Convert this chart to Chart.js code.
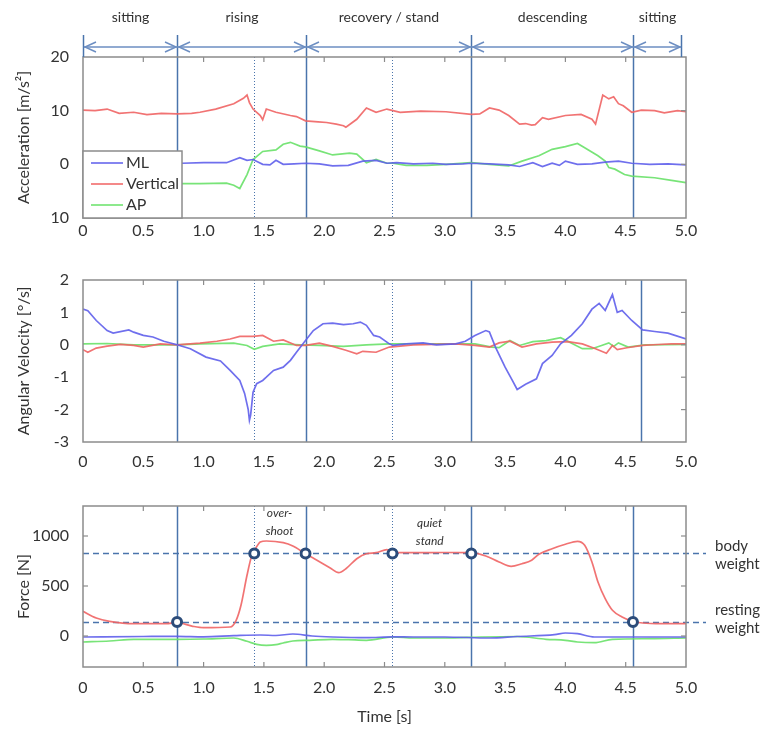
<!DOCTYPE html>
<html lang="en">
<head>
  <meta charset="UTF-8">
  <title>Sit-to-stand: acceleration, angular velocity and force</title>
  <script src="https://cdn.jsdelivr.net/npm/chart.js"></script>
  <style>
    * { margin: 0; padding: 0; box-sizing: border-box; }
    body { width: 768px; height: 737px; background: #fff; overflow: hidden; position: relative; }
    .panel { position: absolute; left: 0; width: 768px; }
    #accPanel { top: 0; height: 245px; }
    #gyroPanel { top: 265px; height: 210px; }
    #forcePanel { top: 495px; height: 242px; }
  </style>
</head>
<body>
  <div class="panel" id="accPanel"><canvas id="accChart"></canvas></div>
  <div class="panel" id="gyroPanel"><canvas id="gyroChart"></canvas></div>
  <div class="panel" id="forcePanel"><canvas id="forceChart"></canvas></div>

  <script>
    // ---- data: [time s, value] ----
    const timeTicks = [0, 0.5, 1.0, 1.5, 2.0, 2.5, 3.0, 3.5, 4.0, 4.5, 5.0];
    const timeTickText = ['0', '0.5', '1.0', '1.5', '2.0', '2.5', '3.0', '3.5', '4.0', '4.5', '5.0'];

    const phaseEdges = [0, 0.78, 1.845, 3.22, 4.56, 4.96];
    const phaseNames = ['sitting', 'rising', 'recovery / stand', 'descending', 'sitting'];
    const eventsSolid = [0.78, 1.845, 3.22, 4.56];
    const eventsSolidGyro = [0.78, 1.845, 3.22, 4.63];
    const eventsDotted = [1.42, 2.566];

    const seriesNames = ['ML', 'Vertical', 'AP'];

    const accTicks = [-10, 0, 10, 20];
    const accTickText = ['10', '0', '10', '20'];
    const accML = [[0,0.3],[0.2,0.2],[0.4,0.3],[0.6,0.2],[0.82,0.2],[1.0,0.3],[1.19,0.3],[1.3,1.25],[1.36,0.75],[1.41,0.9],
      [1.49,0],[1.55,-0.1],[1.6,0.75],[1.66,0],[1.75,0.1],[1.845,0.2],[1.96,0.1],[2.07,-0.3],[2.2,-0.2],[2.32,0.6],
      [2.43,0.75],[2.52,0.2],[2.6,0.3],[2.74,0.1],[2.9,0.2],[3.01,0],[3.15,0.1],[3.22,0.2],[3.37,0.1],[3.53,-0.1],
      [3.62,-0.4],[3.73,0.3],[3.81,-0.4],[3.89,0.2],[3.95,-0.2],[4.0,0.6],[4.1,0],[4.22,0.1],[4.33,0.4],[4.44,0.6],
      [4.55,0.2],[4.7,0],[4.85,0.1],[5.0,-0.1]];
    const accVert = [[0,10.1],[0.1,10.0],[0.2,10.3],[0.3,9.5],[0.42,9.7],[0.53,9.25],[0.65,9.5],[0.78,9.4],[0.9,9.5],[0.97,9.7],
      [1.1,10.3],[1.25,11.3],[1.33,12.3],[1.36,12.9],[1.38,11.5],[1.41,10.3],[1.47,9.1],[1.49,8.3],[1.52,10.3],[1.6,9.7],
      [1.72,9.1],[1.77,8.9],[1.845,8.1],[1.95,7.9],[2.02,7.8],[2.1,7.5],[2.16,7.2],[2.18,6.9],[2.27,8.4],[2.35,10.5],
      [2.43,9.7],[2.52,10.3],[2.63,9.7],[2.8,9.9],[3.01,9.8],[3.22,9.3],[3.29,9.4],[3.37,10.5],[3.45,10.1],[3.53,9.1],
      [3.62,7.5],[3.67,7.6],[3.72,7.3],[3.75,7.4],[3.81,8.7],[3.86,8.4],[4.0,9.1],[4.13,9.3],[4.22,8.4],[4.25,7.5],
      [4.31,12.9],[4.36,12.2],[4.4,12.6],[4.44,11.3],[4.48,10.9],[4.55,9.7],[4.63,10.1],[4.74,10.0],[4.82,9.6],[4.93,10.0],[5.0,9.8]];
    const accAP = [[0,-3.5],[0.3,-3.6],[0.6,-3.5],[0.82,-3.6],[0.97,-3.6],[1.19,-3.5],[1.25,-3.9],[1.3,-4.5],[1.36,-1.9],[1.41,0.9],
      [1.49,2.4],[1.6,2.7],[1.66,3.75],[1.72,4.1],[1.8,3.4],[1.845,3.25],[1.96,2.5],[2.07,1.75],[2.21,2.1],[2.27,1.9],
      [2.35,0.3],[2.43,0.9],[2.52,0.2],[2.57,0.2],[2.68,-0.2],[2.85,-0.2],[3.01,0],[3.22,0.3],[3.37,0],[3.53,-0.3],
      [3.64,0.6],[3.78,1.6],[3.89,2.8],[4.0,3.3],[4.1,3.9],[4.16,3.1],[4.27,1.6],[4.33,0.6],[4.36,-0.6],[4.41,-0.9],
      [4.49,-1.9],[4.55,-2.2],[4.74,-2.5],[4.88,-3.0],[5.0,-3.4]];

    const gyroTicks = [-3, -2, -1, 0, 1, 2];
    const gyroTickText = ['-3', '-2', '-1', '0', '1', '2'];
    const gyroML = [[0,1.1],[0.04,1.05],[0.11,0.75],[0.2,0.44],[0.25,0.36],[0.38,0.46],[0.42,0.39],[0.5,0.29],[0.58,0.24],[0.67,0.11],
      [0.78,0],[0.89,-0.12],[1.02,-0.38],[1.14,-0.5],[1.22,-0.79],[1.3,-1.1],[1.34,-1.5],[1.37,-2.0],[1.38,-2.33],[1.39,-2.17],
      [1.41,-1.46],[1.44,-1.2],[1.49,-1.1],[1.52,-1.0],[1.58,-0.79],[1.66,-0.69],[1.72,-0.48],[1.77,-0.23],[1.845,0.13],[1.91,0.44],
      [1.99,0.65],[2.07,0.67],[2.16,0.62],[2.24,0.65],[2.3,0.7],[2.35,0.6],[2.41,0.29],[2.46,0.24],[2.54,0.03],[2.57,-0.02],
      [2.68,0.03],[2.82,0.06],[2.93,0],[3.09,0.03],[3.17,0.11],[3.25,0.29],[3.34,0.44],[3.37,0.4],[3.42,-0.07],[3.5,-0.69],
      [3.56,-1.1],[3.6,-1.38],[3.67,-1.22],[3.76,-1.05],[3.81,-0.58],[3.89,-0.33],[3.96,0.03],[4.05,0.29],[4.14,0.65],[4.22,1.1],
      [4.28,1.28],[4.33,1.06],[4.39,1.55],[4.43,1.0],[4.47,1.06],[4.55,0.75],[4.64,0.46],[4.74,0.41],[4.85,0.36],[5.0,0.18]];
    const gyroVert = [[0,-0.15],[0.04,-0.23],[0.11,-0.1],[0.2,-0.04],[0.31,0.01],[0.42,-0.02],[0.5,-0.07],[0.64,0.03],[0.78,0],[0.97,0.05],
      [1.11,0.11],[1.22,0.18],[1.3,0.26],[1.41,0.26],[1.49,0.29],[1.58,0.11],[1.66,0.15],[1.77,-0.02],[1.845,-0.02],[1.96,0.05],
      [2.07,-0.05],[2.18,-0.17],[2.27,-0.28],[2.32,-0.2],[2.43,-0.23],[2.54,-0.07],[2.74,0],[3.09,0.03],[3.25,-0.02],[3.37,-0.07],
      [3.45,0.06],[3.54,0.11],[3.64,-0.07],[3.76,0.03],[3.89,0.08],[4.02,0.1],[4.14,0.03],[4.25,-0.12],[4.34,-0.26],[4.39,-0.02],
      [4.43,-0.15],[4.51,-0.09],[4.64,-0.02],[4.77,0.01],[4.88,0.03],[5.0,0.03]];
    const gyroAP = [[0,0.03],[0.2,0.04],[0.42,0],[0.78,0],[0.97,0.03],[1.25,0.05],[1.36,-0.02],[1.42,-0.14],[1.49,-0.05],[1.63,0.03],
      [1.8,0],[1.96,-0.02],[2.16,-0.05],[2.35,0],[2.54,0.03],[2.74,0.03],[3.09,0.03],[3.25,0.03],[3.39,-0.07],[3.45,-0.09],
      [3.54,0.13],[3.62,-0.02],[3.73,0.1],[3.84,0.13],[3.96,0.22],[4.06,0.03],[4.14,-0.12],[4.22,-0.12],[4.3,-0.02],[4.36,0.06],
      [4.4,-0.05],[4.44,0.06],[4.52,-0.07],[4.66,0],[5.0,0.01]];

    const forceTicks = [0, 500, 1000];
    const forceTickText = ['0', '500', '1000'];
    const forceML = [[0,-10],[0.5,-5],[0.78,-3],[1.0,-8],[1.25,3],[1.47,10],[1.6,5],[1.74,20],[1.9,0],[2.07,-10],
      [2.35,-17],[2.57,-8],[2.74,-10],[3.0,-10],[3.37,-20],[3.6,-5],[3.91,13],[4.0,30],[4.1,23],[4.24,-10],[4.39,-10],[5.0,-10]];
    const forceVert = [[0,247],[0.11,180],[0.22,147],[0.42,123],[0.69,123],[0.78,133],[0.91,97],[1.0,83],[1.22,90],[1.27,157],
      [1.31,307],[1.36,607],[1.4,807],[1.43,873],[1.47,940],[1.52,950],[1.66,933],[1.74,900],[1.845,823],[1.94,757],
      [2.05,680],[2.12,633],[2.18,673],[2.27,773],[2.35,823],[2.43,833],[2.52,863],[2.57,833],[2.74,833],[3.0,835],
      [3.22,833],[3.34,800],[3.45,740],[3.55,697],[3.64,723],[3.72,757],[3.78,817],[3.89,873],[4.0,917],[4.1,947],
      [4.16,907],[4.22,740],[4.27,540],[4.33,373],[4.39,257],[4.47,190],[4.55,150],[4.64,130],[4.8,123],[5.0,123]];
    const forceAP = [[0,-60],[0.22,-50],[0.42,-33],[0.78,-33],[1.0,-30],[1.25,-20],[1.36,-53],[1.44,-83],[1.52,-93],[1.6,-87],
      [1.66,-70],[1.74,-50],[1.88,-43],[2.07,-33],[2.2,-37],[2.35,-43],[2.57,-10],[2.74,-20],[3.0,-20],[3.3,-10],
      [3.6,-5],[3.84,-33],[4.0,-43],[4.1,-60],[4.24,-67],[4.39,-33],[4.7,-27],[5.0,-20]];
    const forceMarkers = [[0.78,140],[1.42,825],[1.845,825],[2.566,825],[3.22,825],[4.56,140]];
    const bodyWeight = 825;
    const restingWeight = 140;

    // ---- styles ----
    const colours = ['rgba(95, 95, 235, 0.9)', 'rgba(240, 100, 100, 0.9)', 'rgba(105, 225, 105, 0.9)'];
    const eventColour = 'rgb(74, 116, 172)';
    const arrowColour = 'rgb(108, 142, 194)';
    const frameColour = '#8c8c8c';
    const textColour = '#333';

    Chart.defaults.font.family = 'Lato, "Open Sans", sans-serif';
    Chart.defaults.font.size = 16;
    Chart.defaults.color = textColour;

    function lineSet(label, pts, colour, smooth) {
      return {
        label, data: pts.map(p => ({ x: p[0], y: p[1] })),
        borderColor: colour, borderWidth: 1.7, pointRadius: 0,
        cubicInterpolationMode: smooth ? 'monotone' : 'default', tension: 0, order: 2
      };
    }

    const decor = {
      id: 'decor',
      beforeDatasetsDraw(chart, args, o) {
        const { ctx, chartArea: a, scales: { x, y } } = chart;
        ctx.save();
        ctx.strokeStyle = eventColour;
        ctx.lineWidth = 1.5;
        (o.solid || []).forEach(t => {
          const px = Math.round(x.getPixelForValue(t)) + 0.5;
          ctx.beginPath(); ctx.moveTo(px, o.solidTop ?? a.top); ctx.lineTo(px, a.bottom); ctx.stroke();
        });
        ctx.lineWidth = 1;
        ctx.setLineDash([1, 2]);
        (o.dotted || []).forEach(t => {
          const px = Math.round(x.getPixelForValue(t)) + 0.5;
          ctx.beginPath(); ctx.moveTo(px, a.top); ctx.lineTo(px, a.bottom); ctx.stroke();
        });
        ctx.lineWidth = 1.3;
        ctx.setLineDash([6, 4]);
        (o.refLines || []).forEach(r => {
          const py = Math.round(y.getPixelForValue(r.value)) + 0.5;
          ctx.beginPath(); ctx.moveTo(a.left, py); ctx.lineTo(a.right + 20, py); ctx.stroke();
        });
        ctx.restore();
      },
      afterDatasetsDraw(chart, args, o) {
        const { ctx, chartArea: a, scales: { x, y } } = chart;
        ctx.save();
        // frame + inward tick marks
        ctx.strokeStyle = frameColour;
        ctx.lineWidth = 1.5;
        ctx.strokeRect(a.left, a.top, a.right - a.left, a.bottom - a.top);
        ctx.lineWidth = 1.2;
        x.ticks.forEach(tk => {
          const px = x.getPixelForValue(tk.value);
          if (px <= a.left + 1 || px >= a.right - 1) return;
          ctx.beginPath(); ctx.moveTo(px, a.top); ctx.lineTo(px, a.top + 5); ctx.stroke();
          if (o.allTicks) { ctx.beginPath(); ctx.moveTo(px, a.bottom); ctx.lineTo(px, a.bottom - 5); ctx.stroke(); }
        });
        y.ticks.forEach(tk => {
          const py = y.getPixelForValue(tk.value);
          if (py <= a.top + 1 || py >= a.bottom - 1) return;
          ctx.beginPath(); ctx.moveTo(a.right, py); ctx.lineTo(a.right - 5, py); ctx.stroke();
          if (o.allTicks) { ctx.beginPath(); ctx.moveTo(a.left, py); ctx.lineTo(a.left + 5, py); ctx.stroke(); }
        });

        // phase arrows above the top panel
        if (o.phases) {
          const ay = 47;
          ctx.strokeStyle = arrowColour;
          ctx.lineWidth = 1.5;
          const xs = phaseEdges.map(t => Math.round(x.getPixelForValue(t)) + 0.5);
          ctx.beginPath(); ctx.moveTo(xs[0], ay); ctx.lineTo(xs[xs.length - 1], ay); ctx.stroke();
          ctx.strokeStyle = eventColour;
          [xs[0], xs[xs.length - 1]].forEach(px => {
            ctx.beginPath(); ctx.moveTo(px, 35); ctx.lineTo(px, a.top); ctx.stroke();
          });
          ctx.strokeStyle = arrowColour;
          for (let i = 0; i < xs.length - 1; i++) {
            const l = xs[i] + 1.5, r = xs[i + 1] - 1.5;
            ctx.beginPath(); ctx.moveTo(l + 11, ay - 5); ctx.lineTo(l, ay); ctx.lineTo(l + 11, ay + 5); ctx.stroke();
            ctx.beginPath(); ctx.moveTo(r - 11, ay - 5); ctx.lineTo(r, ay); ctx.lineTo(r - 11, ay + 5); ctx.stroke();
          }
          ctx.fillStyle = textColour;
          ctx.font = '14px Lato, sans-serif';
          ctx.textAlign = 'center';
          ctx.textBaseline = 'middle';
          phaseNames.forEach((n, i) => ctx.fillText(n, (xs[i] + xs[i + 1]) / 2, 17));
        }

        // legend box inside the plot, bottom left
        if (o.legend) {
          const lx = a.left, ly = a.top + 94, lw = 99, lh = a.bottom - ly;
          ctx.fillStyle = '#fff';
          ctx.fillRect(lx, ly, lw, lh);
          ctx.strokeStyle = frameColour;
          ctx.lineWidth = 1.5;
          ctx.strokeRect(lx, ly, lw, lh);
          ctx.font = '16px Lato, sans-serif';
          ctx.textAlign = 'left';
          ctx.textBaseline = 'middle';
          seriesNames.forEach((n, i) => {
            const ry = ly + 12 + i * 21;
            ctx.strokeStyle = colours[i];
            ctx.lineWidth = 1.7;
            ctx.beginPath(); ctx.moveTo(lx + 8, ry); ctx.lineTo(lx + 40, ry); ctx.stroke();
            ctx.fillStyle = textColour;
            ctx.fillText(n, lx + 43, ry);
          });
        }

        // text notes and reference-line labels
        ctx.fillStyle = textColour;
        ctx.textBaseline = 'middle';
        (o.notes || []).forEach(nt => {
          ctx.font = 'italic 12px Lato, sans-serif';
          ctx.textAlign = 'center';
          nt.lines.forEach((s, i) => ctx.fillText(s, x.getPixelForValue(nt.t), y.getPixelForValue(nt.value) + i * 18));
        });
        (o.refLines || []).forEach(r => {
          ctx.font = '15px Lato, sans-serif';
          ctx.textAlign = 'left';
          const py = y.getPixelForValue(r.value);
          r.lines.forEach((s, i) => ctx.fillText(s, a.right + 29, py + r.dy + i * 18));
        });
        ctx.restore();
      }
    };

    function panelChart(canvasId, datasets, yTicks, yText, yMin, yMax, yTitle, lay, decorOpts, xTitle) {
      return new Chart(document.getElementById(canvasId), {
        type: 'line',
        data: { datasets },
        plugins: [decor],
        options: {
          responsive: true,
          maintainAspectRatio: false,
          animation: false,
          layout: { padding: { top: lay.top, right: 82, left: 0, bottom: 0 } },
          plugins: { legend: { display: false }, tooltip: { enabled: false }, decor: decorOpts },
          scales: {
            x: {
              type: 'linear', min: 0, max: 5,
              grid: { display: false, drawTicks: false }, border: { display: false },
              afterBuildTicks: s => { s.ticks = timeTicks.map(v => ({ value: v })); },
              afterFit: s => { s.height = lay.xHeight; },
              ticks: { autoSkip: false, maxRotation: 0, padding: lay.xPad, color: textColour, callback: (v, i) => timeTickText[i] },
              title: xTitle ? { display: true, text: xTitle, color: textColour, padding: { top: 0, bottom: 11 } } : { display: false }
            },
            y: {
              min: yMin, max: yMax,
              grid: { display: false, drawTicks: false }, border: { display: false },
              afterBuildTicks: s => { s.ticks = yTicks.map(v => ({ value: v })); },
              afterFit: s => { s.width = 83; s.paddingTop = 0; s.paddingBottom = 0; },
              ticks: { padding: 14, color: textColour, callback: (v, i) => yText[i] },
              title: { display: true, text: yTitle, color: textColour, padding: { top: 14, bottom: 0 } }
            }
          }
        }
      });
    }

    panelChart('accChart',
      [lineSet(seriesNames[0], accML, colours[0]), lineSet(seriesNames[1], accVert, colours[1]), lineSet(seriesNames[2], accAP, colours[2])],
      accTicks, accTickText, -10, 20, 'Acceleration [m/s²]',
      { top: 57, xHeight: 27, xPad: 3 },
      { solid: eventsSolid, solidTop: 35, dotted: eventsDotted, phases: true, legend: true });

    panelChart('gyroChart',
      [lineSet(seriesNames[0], gyroML, colours[0]), lineSet(seriesNames[1], gyroVert, colours[1]), lineSet(seriesNames[2], gyroAP, colours[2])],
      gyroTicks, gyroTickText, -3, 2, 'Angular Velocity [°/s]',
      { top: 15, xHeight: 33, xPad: 10 },
      { solid: eventsSolidGyro, dotted: eventsDotted });

    const markerSet = {
      label: 'events', data: forceMarkers.map(p => ({ x: p[0], y: p[1] })),
      showLine: false, pointRadius: 4.5, pointBorderWidth: 3,
      pointBorderColor: 'rgb(44, 76, 122)', pointBackgroundColor: '#fff', order: 0
    };
    panelChart('forceChart',
      [markerSet, lineSet(seriesNames[0], forceML, colours[0], true), lineSet(seriesNames[1], forceVert, colours[1], true), lineSet(seriesNames[2], forceAP, colours[2], true)],
      forceTicks, forceTickText, -310, 1300, 'Force [N]',
      { top: 11, xHeight: 70, xPad: 11 },
      {
        solid: eventsSolid, dotted: eventsDotted, allTicks: true,
        refLines: [
          { value: bodyWeight, lines: ['body', 'weight'], dy: -7 },
          { value: restingWeight, lines: ['resting', 'weight'], dy: -12 }
        ],
        notes: [
          { t: 1.63, value: 1225, lines: ['over-', 'shoot'] },
          { t: 2.875, value: 1130, lines: ['quiet', 'stand'] }
        ]
      }, 'Time [s]');
  </script>
</body>
</html>
